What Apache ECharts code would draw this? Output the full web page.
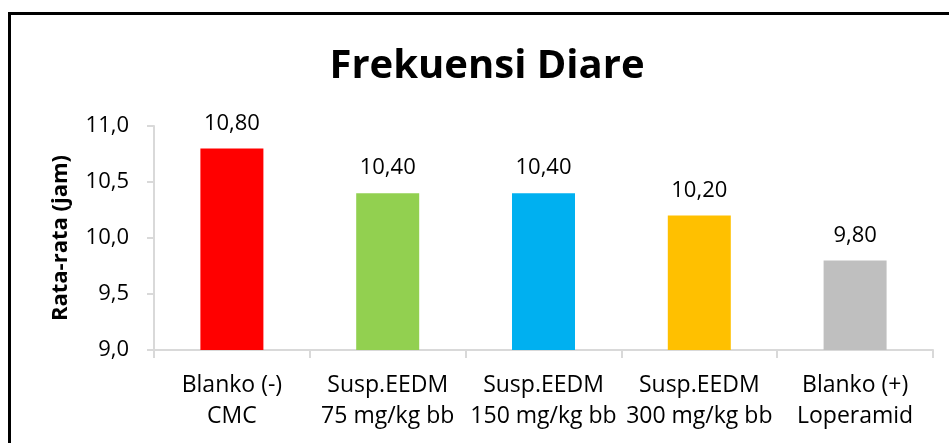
<!DOCTYPE html>
<html>
<head>
<meta charset="utf-8">
<script src="https://cdn.jsdelivr.net/npm/echarts@6/dist/echarts.min.js"></script>
<style>html,body{margin:0;padding:0;background:#fff}#c{width:949px;height:443px}</style>
</head>
<body>
<div id="c"></div>
<script>
var categories = ["Blanko (-)\nCMC", "Susp.EEDM\n75 mg/kg bb", "Susp.EEDM\n150 mg/kg bb", "Susp.EEDM\n300 mg/kg bb", "Blanko (+)\nLoperamid"];
var values = [10.80, 10.40, 10.40, 10.20, 9.80];
var barColors = ["#FF0000", "#92D050", "#00B0F0", "#FFC000", "#BFBFBF"];
var yTicks = [9.0, 9.5, 10.0, 10.5, 11.0];

var FONT = "'Open Sans', 'Noto Sans', sans-serif";
var chart = echarts.init(document.getElementById('c'), null, {renderer: 'canvas'});
chart.setOption({
  animation: false,
  backgroundColor: '#fff',
  title: {
    text: 'Frekuensi Diare',
    left: 482, textAlign: 'center', top: 42,
    textStyle: {fontFamily: FONT, fontSize: 40, fontWeight: 'bold', color: '#000'}
  },
  graphic: [{
    type: 'rect', silent: true,
    shape: {x: 9.5, y: 13.5, width: 960, height: 460},
    style: {fill: 'none', stroke: '#000', lineWidth: 3}
  }],
  grid: {left: 154, right: 16, top: 126, bottom: 93, containLabel: false},
  xAxis: {
    type: 'category',
    data: categories,
    axisLine: {show: true, lineStyle: {color: '#D9D9D9', width: 2}},
    axisTick: {show: true, length: 8, alignWithLabel: false, lineStyle: {color: '#D9D9D9', width: 2}},
    axisLabel: {fontFamily: FONT, fontSize: 23, color: '#000', margin: 20, lineHeight: 31, interval: 0}
  },
  yAxis: {
    type: 'value',
    min: yTicks[0], max: yTicks[yTicks.length - 1], interval: 0.5,
    name: 'Rata-rata (jam)',
    nameLocation: 'middle',
    nameGap: 82,
    nameTextStyle: {fontFamily: FONT, fontSize: 22, fontWeight: 'bold', color: '#000'},
    axisLine: {show: true, lineStyle: {color: '#D9D9D9', width: 2}},
    axisTick: {show: true, length: 7, lineStyle: {color: '#D9D9D9', width: 2}},
    splitLine: {show: false},
    axisLabel: {
      fontFamily: FONT, fontSize: 22, color: '#000', margin: 25,
      formatter: function (v) { return v.toFixed(1).replace('.', ','); }
    }
  },
  series: [{
    type: 'bar',
    barWidth: 63,
    data: values.map(function (v, i) { return {value: v, itemStyle: {color: barColors[i]}}; }),
    label: {
      show: true, position: 'top', distance: 14,
      fontFamily: FONT, fontSize: 22, color: '#000',
      formatter: function (p) { return p.value.toFixed(2).replace('.', ','); }
    }
  }]
});
</script>
</body>
</html>
